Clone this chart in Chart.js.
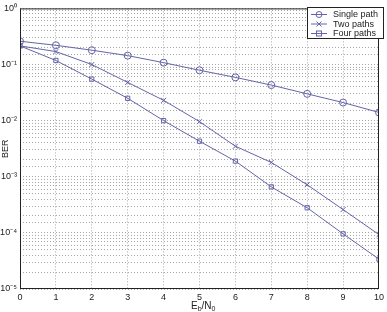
<!DOCTYPE html>
<html><head><meta charset="utf-8">
<script src="https://cdn.jsdelivr.net/npm/chart.js@4/dist/chart.umd.min.js"></script>
<style>html,body{margin:0;padding:0;background:#fff}#wrap{width:387px;height:312px}</style>
</head><body><div id="wrap"><canvas id="c"></canvas></div>
<script>
const snr = [0,1,2,3,4,5,6,7,8,9,10];
const singlePath = [0.26,0.22,0.18,0.144,0.108,0.079,0.059,0.043,0.030,0.021,0.014];
const twoPaths = [0.215,0.17,0.10,0.048,0.023,0.0096,0.0035,0.0018,0.00072,0.00026,0.000093];
const fourPaths = [0.215,0.118,0.055,0.025,0.010,0.0043,0.0019,0.00066,0.00028,0.000096,0.000034];
const seriesLabels = ['Single path','Two paths','Four paths'];
const yMin = 1e-5, yMax = 1;

const lineColor = '#6464a8';
const sup = {'0':'⁰','1':'¹','2':'²','3':'³','4':'⁴','5':'⁵','-':'⁻'};
const toSup = s => s.split('').map(c=>sup[c]||c).join('');

function mk(label, data, style){
  return {label, data: snr.map((x,i)=>({x, y:data[i]})), borderColor: lineColor, borderWidth:1,
    pointStyle: style, pointRadius: style==='rect'?3:3.5, pointBorderColor: lineColor,
    pointBackgroundColor:'rgba(0,0,0,0)', pointBorderWidth:1, tension:0, fill:false};
}

const framePlugin = {
  id:'frame',
  afterDraw(chart){
    const {ctx, chartArea:a} = chart;
    ctx.save();
    ctx.strokeStyle='#222'; ctx.lineWidth=1;
    ctx.strokeRect(a.left+0.5, a.top+0.5, a.right-a.left-1, a.bottom-a.top-1);
    // x title with subscripts
    ctx.fillStyle='#222';
    ctx.textBaseline='alphabetic';
    let x = 191, y = 309;
    ctx.font='10px "Liberation Sans", Arial';
    ctx.fillText('E', x, y); x += ctx.measureText('E').width;
    ctx.font='7px "Liberation Sans", Arial';
    ctx.fillText('b', x, y+2); x += ctx.measureText('b').width;
    ctx.font='10px "Liberation Sans", Arial';
    ctx.fillText('/N', x, y); x += ctx.measureText('/N').width;
    ctx.font='7px "Liberation Sans", Arial';
    ctx.fillText('0', x, y+2);
    // legend
    const lx=307, ly=7, lw=77, lh=32;
    ctx.fillStyle='#fff'; ctx.fillRect(lx,ly,lw,lh);
    ctx.strokeStyle='#222'; ctx.strokeRect(lx+0.5,ly+0.5,lw-1,lh-1);
    chart.data.datasets.forEach((ds,i)=>{
      const yy = ly+7+i*9.5;
      ctx.strokeStyle=lineColor; ctx.lineWidth=1;
      ctx.beginPath(); ctx.moveTo(lx+4,yy+0.5); ctx.lineTo(lx+20,yy+0.5); ctx.stroke();
      const cx=lx+12;
      ctx.beginPath();
      if(ds.pointStyle==='circle'){ ctx.arc(cx,yy+0.5,3,0,Math.PI*2); ctx.stroke(); }
      else if(ds.pointStyle==='rect'){ ctx.strokeRect(cx-2.5,yy-2,5,5); }
      else { ctx.moveTo(cx-2.5,yy-2);ctx.lineTo(cx+2.5,yy+3);ctx.moveTo(cx+2.5,yy-2);ctx.lineTo(cx-2.5,yy+3);ctx.stroke(); }
      ctx.fillStyle='#222'; ctx.font='9px "Liberation Sans", Arial'; ctx.textBaseline='middle';
      ctx.fillText(ds.label, lx+26, yy+1);
    });
    ctx.restore();
  }
};

new Chart(document.getElementById('c'), {
  type:'line',
  data:{datasets:[mk(seriesLabels[0],singlePath,'circle'), mk(seriesLabels[1],twoPaths,'crossRot'), mk(seriesLabels[2],fourPaths,'rect')]},
  options:{
    responsive:true, maintainAspectRatio:false, animation:false,
    layout:{padding:{top:4,right:3,left:0,bottom:0}},
    plugins:{legend:{display:false}, tooltip:{enabled:false}},
    scales:{
      x:{type:'linear', min:0, max:10,
        ticks:{stepSize:1, color:'#222', font:{size:9, family:'"Liberation Sans", Arial'}, padding:3},
        grid:{color:'#a8a8a8', drawTicks:false, lineWidth:1},
        border:{display:false, dash:[1,2]},
        afterFit(s){ s.height = 23; }
      },
      y:{type:'logarithmic', min:yMin, max:yMax,
        ticks:{color:'#222', font:{size:9, family:'"Liberation Sans", Arial'}, padding:3, autoSkip:false,
          callback(v){ const e=Math.log10(v); if(Math.abs(e-Math.round(e))<1e-9) return '10'+toSup(String(Math.round(e))); return ''; }},
        grid:{color:'#a8a8a8', drawTicks:false, lineWidth:1},
        border:{display:false, dash:[1,2]},
        title:{display:true, text:'BER', color:'#222', font:{size:9}, padding:0},
        afterFit(s){ s.width = 20; }
      }
    }
  },
  plugins:[framePlugin]
});
</script></body></html>
